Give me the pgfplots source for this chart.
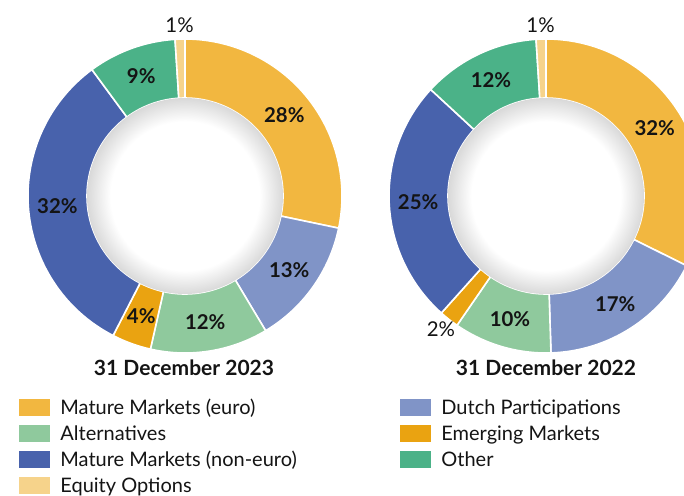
\documentclass[border=0pt]{standalone}
\usepackage{pgfplots}
\pgfplotsset{compat=1.18}
\usepackage{pgfplotstable}
\usepackage{etoolbox}
\usepackage{fontspec}
\setmainfont{Lato}
\usetikzlibrary{calc}

\definecolor{cEuro}{RGB}{242,183,64}
\definecolor{cDutch}{RGB}{128,148,199}
\definecolor{cAlt}{RGB}{143,201,157}
\definecolor{cEmer}{RGB}{234,163,17}
\definecolor{cNon}{RGB}{72,98,172}
\definecolor{cOther}{RGB}{75,178,136}
\definecolor{cOpt}{RGB}{246,211,139}
\definecolor{txt}{RGB}{20,20,20}

\pgfdeclareradialshading{holeshade}{\pgfpoint{0bp}{0bp}}{color(0bp)=(white); color(19bp)=(white); color(25bp)=(black!15); color(50bp)=(black!15)}

% name, colour, share 2023, label radius 2023 (px), share 2022, label radius 2022 (px)
\pgfplotstableread[col sep=comma]{
name,col,v23,l23,v22,l22
Mature Markets (euro),cEuro,28,128,32,128
Dutch Participations,cDutch,13,128,17,128
Alternatives,cAlt,12,128,10,128
Emerging Markets,cEmer,4,128,2,170
Mature Markets (non-euro),cNon,32,128,25,128
Other,cOther,9,128,12,128
Equity Options,cOpt,1,171,1,171
}\shares

\def\Ro{78.5pt}
\def\Ri{49pt}
\gdef\drawing{}
\gdef\labels{}
\newcommand\builddonut[4]{% value col, label radius col, cx px, cy px (from top)
  \pgfmathsetmacro\cyy{495-#4}%
  \xdef\cum{0}\xdef\tot{0}%
  \foreach \i in {0,...,6}{\pgfplotstablegetelem{\i}{#1}\of\shares
    \pgfmathsetmacro\t{\tot+\pgfplotsretval}\xdef\tot{\t}}%
  \foreach \i in {0,...,6}{%
    \pgfplotstablegetelem{\i}{#1}\of\shares\let\v\pgfplotsretval
    \pgfplotstablegetelem{\i}{#2}\of\shares\let\lr\pgfplotsretval
    \pgfplotstablegetelem{\i}{col}\of\shares\let\c\pgfplotsretval
    \pgfmathsetmacro\fs{\cum/\tot}%
    \pgfmathsetmacro\fe{(\cum+\v)/\tot}%
    \pgfmathsetmacro\as{90-360*\fs}%
    \pgfmathsetmacro\ae{90-360*\fe}%
    \pgfmathsetmacro\am{(\as+\ae)/2}%
    \pgfmathsetmacro\lrpt{\lr*0.5}%
    \ifdim\lr pt>150pt \def\wt{\noexpand\mdseries}\else\def\wt{\noexpand\bfseries}\fi
    \xappto\drawing{\noexpand\fill[\c,draw=white,line width=0.8pt]
      ($(axis cs:#3,\cyy)+(\as:\Ro)$) arc[start angle=\as,end angle=\ae,radius=\Ro]
      -- ($(axis cs:#3,\cyy)+(\ae:\Ri)$) arc[start angle=\ae,end angle=\as,radius=\Ri] -- cycle;}%
    \xappto\labels{\noexpand\node[font=\wt\noexpand\fontsize{10.2}{12}\noexpand\selectfont,text=txt,inner sep=0pt]
      at ($(axis cs:#3,\cyy)+(\am:\lrpt pt)$) {\v\noexpand\%};}%
    \pgfmathsetmacro\nc{\cum+\v}\xdef\cum{\nc}%
  }%
  \xappto\drawing{\noexpand\shade[shading=holeshade] (axis cs:#3,\cyy) circle[radius=\Ri];}%
}
\builddonut{v23}{l23}{185}{196}
\builddonut{v22}{l22}{546}{196}

% legend built from the same table: two columns, row-major
\gdef\legendcode{}
\foreach \i in {0,...,6}{%
  \pgfplotstablegetelem{\i}{name}\of\shares\let\nm\pgfplotsretval
  \pgfplotstablegetelem{\i}{col}\of\shares\let\c\pgfplotsretval
  \pgfmathtruncatemacro\cc{mod(\i,2)}%
  \pgfmathtruncatemacro\rr{floor(\i/2)}%
  \pgfmathsetmacro\bx{19+381*\cc}%
  \pgfmathsetmacro\bxe{\bx+31}%
  \pgfmathsetmacro\tx{\bx+41}%
  \pgfmathsetmacro\byt{495-(399+26*\rr)}%
  \pgfmathsetmacro\byb{\byt-17}%
  \pgfmathsetmacro\bl{495-(414+26*\rr)}%
  \xappto\legendcode{\noexpand\fill[\c] (axis cs:\bx,\byb) rectangle (axis cs:\bxe,\byt);
    \noexpand\node[anchor=base west,inner sep=0pt,text=txt,font=\noexpand\fontsize{10}{12}\noexpand\selectfont] at (axis cs:\tx,\bl) {\nm};}%
}

\begin{document}
\begin{tikzpicture}
\path[clip,use as bounding box] (0pt,0pt) rectangle (342pt,247.5pt);
\begin{axis}[
  x=0.5pt, y=0.5pt,
  xmin=0, xmax=684, ymin=0, ymax=495,
  hide axis, anchor=origin, at={(0pt,0pt)},
  clip=true,
]
\drawing
\labels
\node[font=\bfseries\fontsize{10.5}{12}\selectfont,text=txt,inner sep=0pt] at (axis cs:184,127) {31 December 2023};
\node[font=\bfseries\fontsize{10.5}{12}\selectfont,text=txt,inner sep=0pt] at (axis cs:546,127) {31 December 2022};
\legendcode
\end{axis}
\end{tikzpicture}
\end{document}
